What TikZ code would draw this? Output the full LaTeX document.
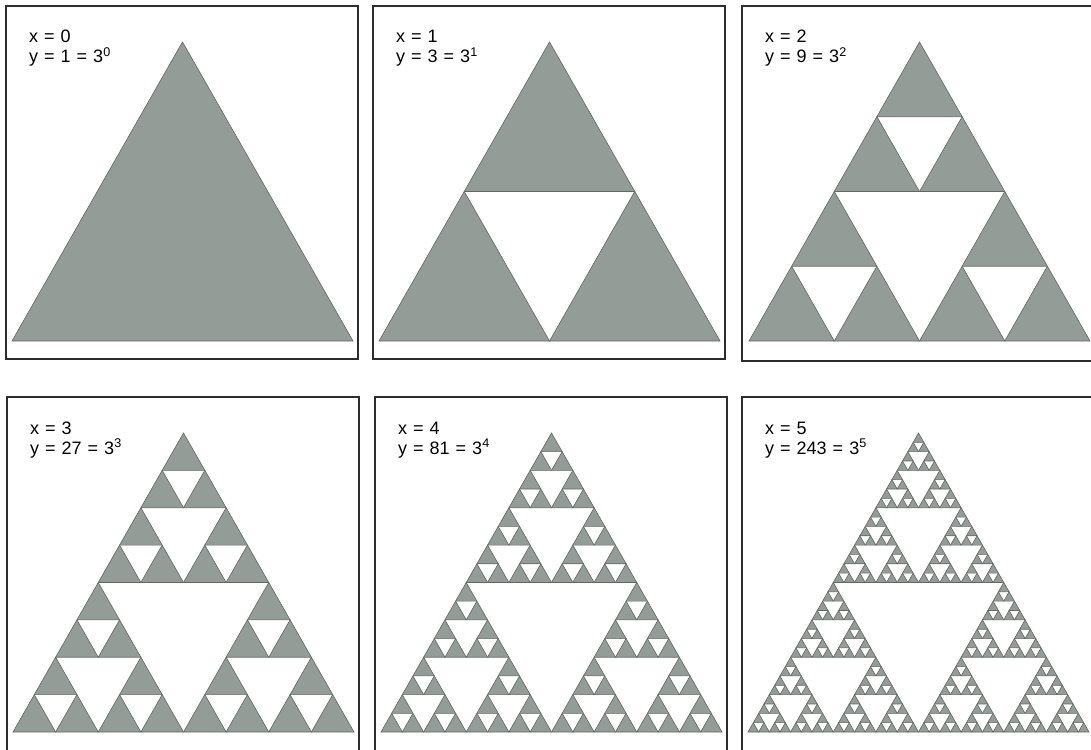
\documentclass[tikz,border=0pt]{standalone}
\usepackage{fontspec}
\setmainfont{Liberation Sans}
\newfontfamily\lblfamily{Liberation Sans}[WordSpace=1.2]

\definecolor{trifill}{RGB}{148,156,151}
\definecolor{triedge}{RGB}{98,104,100}
\definecolor{framecol}{RGB}{45,45,45}

% level, left x, base y, side
\newcommand\sierp[4]{%
  \ifnum#1=0\relax
    \filldraw[tri] (#2,#3) -- ++(#4,0) -- ++({-#4/2},{-0.877*#4}) -- cycle;
  \else
    \pgfmathsetmacro\sidehalf{#4/2}%
    \pgfmathsetmacro\rightx{#2+#4/2}%
    \pgfmathsetmacro\topx{#2+#4/4}%
    \pgfmathsetmacro\topy{#3-0.877*#4/2}%
    \edef\sierpnext{%
      \noexpand\sierp{\the\numexpr#1-1\relax}{#2}{#3}{\sidehalf}%
      \noexpand\sierp{\the\numexpr#1-1\relax}{\rightx}{#3}{\sidehalf}%
      \noexpand\sierp{\the\numexpr#1-1\relax}{\topx}{\topy}{\sidehalf}}%
    \sierpnext
  \fi}

\begin{document}
\begin{tikzpicture}[x=1pt, y=-1pt,
    tri/.style={fill=trifill, draw=triedge, line width=0.6pt},
    panel/.style={draw=framecol, line width=1.3pt},
    countlbl/.style={anchor=base west, inner sep=0pt,
      font=\lblfamily\fontsize{18}{21}\selectfont}]
    \useasboundingbox (0,0) rectangle (1091,749);
    \clip (0,0) rectangle (1091,749);
    \fill[white] (0,0) rectangle (1091,749);

    \foreach \lvl/\px/\py/\ph/\tx/\ty/\yv in {0/6/6/353/12/341/1, 1/373/6/353/379/341/3,
        2/742/6/355/749/341/9, 3/7/397/370/13/732/27, 4/375/397/370/381/732/81,
        5/742/397/370/748/732/243} {
      \draw[panel] (\px,\py) rectangle ++(352,\ph);
      \sierp{\lvl}{\tx}{\ty}{341}
      \node[countlbl] (xl\lvl) at (\px+23,\py+37) {x = \lvl};
      \node[countlbl] (yl\lvl) at (\px+23,\py+57) {y = \yv{} = 3\textsuperscript{\lvl}};
    }
\end{tikzpicture}
\end{document}
